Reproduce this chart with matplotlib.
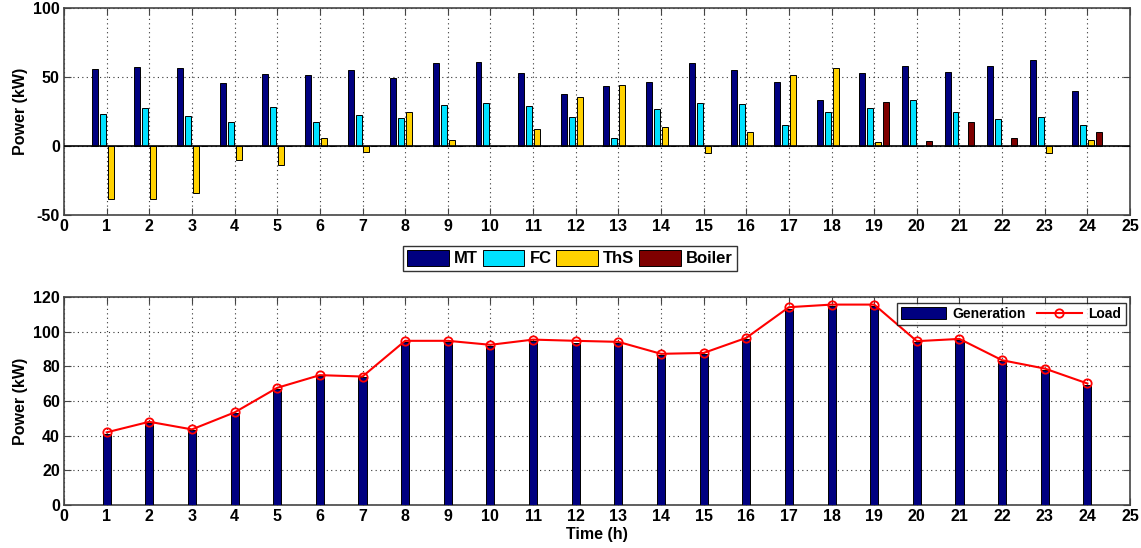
import matplotlib
matplotlib.use("Agg")
import matplotlib.pyplot as plt
import matplotlib.patches as mpatches
import numpy as np

hours = list(range(1, 25))

# top panel: unit dispatch (kW)
mt = [56, 57, 56.5, 45.7, 52.2, 51.2, 55, 49.3, 60.3, 60.8, 52.9, 37.5,
      43.5, 46.4, 60.1, 55, 46.4, 33.4, 53.1, 57.9, 53.8, 57.9, 62.5, 40.1]
fc = [23.1, 27.4, 21.6, 17.3, 28.1, 17.3, 22.1, 20.2, 29.6, 31, 29.3, 20.9,
      5.8, 26.7, 31, 30.3, 15.1, 24.5, 27.4, 33.2, 24.5, 19.5, 20.9, 15.1]
ths = [-38.2, -38.2, -34.4, -9.9, -13.5, 5.8, -4.1, 24.5, 4.3, 0, 12.3, 35.3,
       44.2, 13.7, -4.8, 10.1, 51.2, 56.5, 2.9, 0, 0, 0, -4.8, 4.3]
boiler = [0, 0, 0, 0, 0, 0, 0, 0, 0, 0, 0, 0,
          0, 0, 0, 0, 0, 0, 31.7, 3.6, 17.3, 5.8, 0, 10.1]

# bottom panel: generation vs load (kW)
load = [41.9, 48, 43.6, 53.4, 67.6, 74.9, 74.1, 94.7, 94.7, 92.4, 95.4, 94.7,
        94.1, 87.2, 87.7, 96.4, 114.1, 115.6, 115.6, 94.5, 95.8, 83.5, 78.7, 70.1]
generation = [41.2, 47.4, 43.2, 53.0, 66.8, 74.3, 73.6, 94.0, 94.2, 91.8, 94.5, 93.7,
              93.5, 86.5, 87.0, 95.7, 113.3, 114.9, 115.0, 94.0, 95.2, 82.8, 78.0, 69.2]

COLORS = {"MT": "#000080", "FC": "#00e1ff", "ThS": "#ffd200", "Boiler": "#7f0000"}
SPINE = "#444444"

plt.rcParams["font.family"] = "Liberation Sans"
plt.rcParams["font.weight"] = "bold"
plt.rcParams["axes.unicode_minus"] = False


def style_axes(ax, ylim, yticks):
    ax.set_xlim(0, 25)
    ax.set_xticks(range(0, 26))
    ax.set_ylim(*ylim)
    ax.set_yticks(yticks)
    ax.grid(True, linestyle=(0, (1, 3)), color="#333333", linewidth=0.8)
    ax.set_axisbelow(True)
    ax.tick_params(direction="in", top=True, right=True, length=5,
                   labelsize=11.5, color=SPINE, pad=3)
    for lbl in ax.get_xticklabels() + ax.get_yticklabels():
        lbl.set_fontweight("bold")
    for side in ax.spines.values():
        side.set_color(SPINE)
        side.set_linewidth(1.2)
    ax.set_ylabel("Power (kW)", fontsize=11.5, fontweight="bold", labelpad=4)


fig = plt.figure(figsize=(11.41, 5.48), dpi=100)
ax1 = fig.add_axes([0.0561, 0.6077, 0.9343, 0.3777])
ax2 = fig.add_axes([0.0561, 0.0785, 0.9343, 0.3796])

x = np.array(hours)
w = 0.14
offsets = [-0.28, -0.093, 0.093, 0.28]
series = [("MT", mt), ("FC", fc), ("ThS", ths), ("Boiler", boiler)]
for off, (name, vals) in zip(offsets, series):
    ax1.bar(x + off, vals, width=w, color=COLORS[name], edgecolor="black",
            linewidth=0.7, label=name, zorder=3)
ax1.axhline(0, color="black", linewidth=1.2, zorder=4)
style_axes(ax1, (-50, 100), [-50, 0, 50, 100])

handles = [mpatches.Patch(facecolor=COLORS[n], edgecolor="black", linewidth=0.7, label=n)
           for n, _ in series]
top_leg = fig.legend(handles=handles, loc="center", bbox_to_anchor=(0.4996, 0.529), ncol=4,
                     frameon=True, fancybox=False, edgecolor="black", handlelength=2.5,
                     handleheight=1.1, handletextpad=0.3, columnspacing=0.3,
                     borderpad=0.25, prop={"weight": "bold", "size": 12})
top_leg.get_frame().set_linewidth(1.0)

gen_bars = ax2.bar(x, generation, width=0.19, color=COLORS["MT"], edgecolor="black",
                   linewidth=0.7, label="Generation", zorder=3)
load_line, = ax2.plot(x, load, color="red", linewidth=1.5, marker="o", markersize=6,
                      markerfacecolor="none", markeredgecolor="red", markeredgewidth=1.3,
                      label="Load", zorder=4)
style_axes(ax2, (0, 120), range(0, 121, 20))
ax2.set_xlabel("Time (h)", fontsize=11.5, fontweight="bold", labelpad=2)
leg = ax2.legend(handles=[gen_bars, load_line], loc="upper right",
                 bbox_to_anchor=(0.9985, 0.985), ncol=2,
                 frameon=True, fancybox=False, edgecolor="black",
                 handlelength=3.2, handleheight=1.0, handletextpad=0.5,
                 columnspacing=0.8, borderpad=0.3, borderaxespad=0.2,
                 prop={"weight": "bold", "size": 10})
leg.get_frame().set_linewidth(1.0)

fig.savefig("out.png", dpi=100)
